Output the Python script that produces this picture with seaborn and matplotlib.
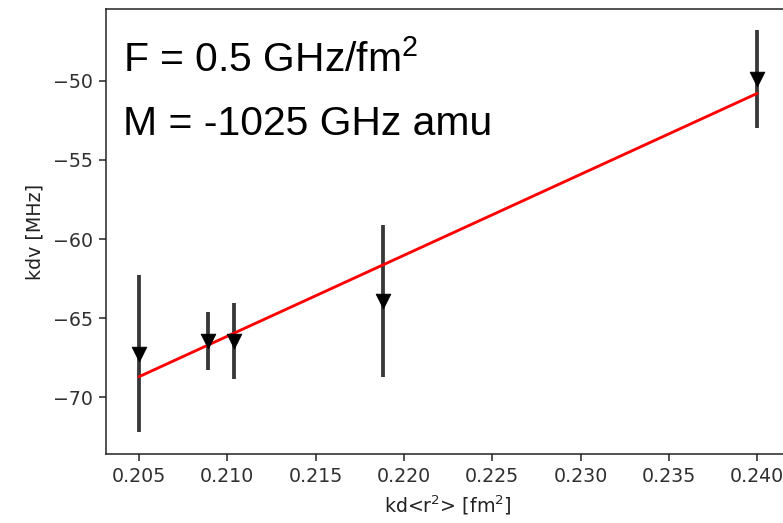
import numpy as np
import pandas as pd
import matplotlib
matplotlib.use("Agg")
import matplotlib.pyplot as plt
import seaborn as sns

# Measured isotope-shift points: kd<r^2> [fm^2] vs kd nu [MHz] with 1-sigma errors
kd_r2 = [0.2050, 0.2089, 0.2104, 0.2188, 0.2400]
kd_nu = [-67.25, -66.45, -66.45, -63.90, -49.85]
kd_nu_err = [4.95, 1.85, 2.40, 4.80, 3.10]

# King-plot straight-line fit
fit_slope = 512.0       # MHz / fm^2
fit_intercept = -173.67  # MHz

annotation_lines = ["F = 0.5 GHz/fm$^{\\mathrm{2}}$", "M = -1025 GHz amu"]

DPI = 137
sns.set_style("ticks")
plt.rcParams.update({
    "font.family": ["DejaVu Sans"],
    "font.size": 10,
    "axes.edgecolor": "#222222",
    "axes.linewidth": 0.8,
    "xtick.color": "#222222",
    "ytick.color": "#222222",
    "text.color": "black",
    "axes.labelcolor": "#222222",
    "xtick.labelcolor": "#303030",
    "ytick.labelcolor": "#303030",
    "xtick.major.size": 3.5,
    "ytick.major.size": 3.5,
    "xtick.major.width": 0.8,
    "ytick.major.width": 0.8,
    "xtick.labelsize": 10,
    "ytick.labelsize": 10,
    "axes.labelsize": 10,
    "mathtext.rm": "Liberation Sans",
    "mathtext.it": "Liberation Sans:italic",
    "mathtext.bf": "Liberation Sans:bold",
})

df = pd.DataFrame({"r2": kd_r2, "nu": kd_nu, "err": kd_nu_err})
fit_x = np.array([df["r2"].min(), df["r2"].max()])
fit_df = pd.DataFrame({"r2": fit_x, "nu": fit_slope * fit_x + fit_intercept})

fig = plt.figure(figsize=(783 / DPI, 523 / DPI), dpi=DPI)
ax = fig.add_axes([106 / 783, 69 / 523, 684 / 783, 445 / 523])

ax.errorbar(df["r2"], df["nu"], yerr=df["err"], fmt="none",
            ecolor="#383838", elinewidth=2.0, capsize=0, zorder=2)
sns.lineplot(data=fit_df, x="r2", y="nu", color="red", linewidth=1.5,
             ax=ax, zorder=3)
sns.scatterplot(data=df, x="r2", y="nu", marker="v", s=58, color="black",
                edgecolor="black", linewidth=0.5, ax=ax, zorder=4)

ax.set_xlim(0.20313, 0.24186)
ax.set_ylim(-73.6, -45.45)
ax.set_xticks([0.205, 0.210, 0.215, 0.220, 0.225, 0.230, 0.235, 0.240])
ax.set_yticks([-70, -65, -60, -55, -50])
ax.set_xlabel("kd<r$^2$> [fm$^2$]")
ax.set_ylabel("kdv [MHz]")

fig.text(123.5 / 783, 1 - 71.5 / 523, annotation_lines[0], fontsize=21.5,
         family="Liberation Sans", va="baseline", ha="left",
         math_fontfamily="custom")
fig.text(123.5 / 783, 1 - 135 / 523, annotation_lines[1], fontsize=21.5,
         family="Liberation Sans", va="baseline", ha="left",
         math_fontfamily="custom")

fig.savefig("out.png", dpi=DPI)
